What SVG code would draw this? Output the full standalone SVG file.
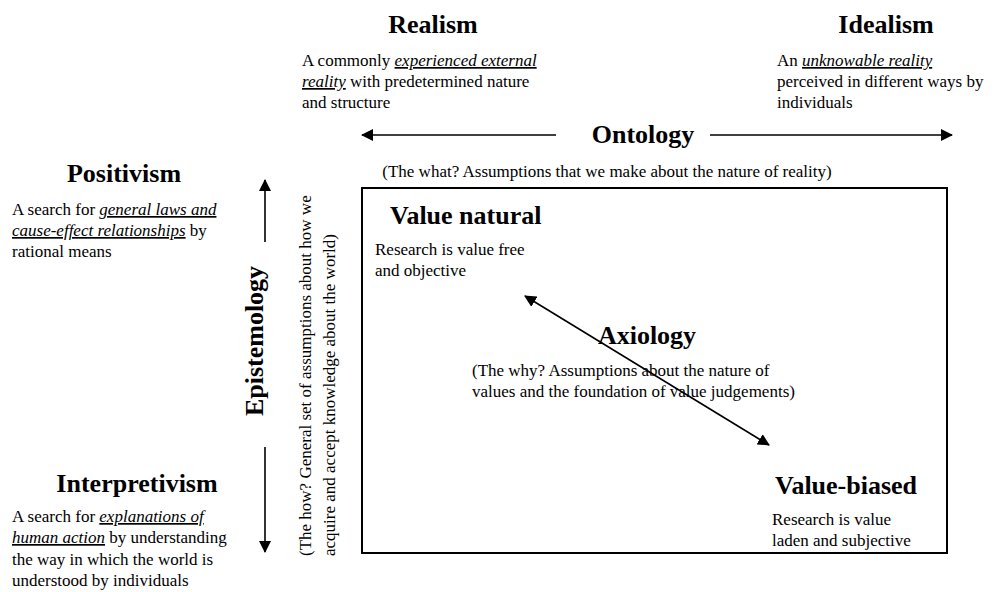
<svg xmlns="http://www.w3.org/2000/svg" width="994" height="592" viewBox="0 0 994 592">
<style>
text{font-family:"Liberation Serif","Times New Roman",serif;fill:#000}
.t{font-size:26px;font-weight:bold}
.b{font-size:17px}
.s{font-size:16px}
.u{font-style:italic;text-decoration:underline}
.ln{stroke:#000;stroke-width:1.6;fill:none}
</style>
<defs>
<marker id="ah" viewBox="0 0 12 12" refX="11" refY="6" markerWidth="12" markerHeight="12" markerUnits="userSpaceOnUse" orient="auto-start-reverse">
<path d="M0,0 L12,6 L0,12 Z" fill="#000"/>
</marker>
</defs>
<rect x="0" y="0" width="994" height="592" fill="#fff"/>
<g id="frame">
<rect x="362" y="188" width="585" height="365" fill="none" stroke="#000" stroke-width="2"/>
</g>
<g id="connectors">
<line class="ln" x1="556" y1="135" x2="362" y2="135" marker-end="url(#ah)"/>
<line class="ln" x1="710" y1="135" x2="952" y2="135" marker-end="url(#ah)"/>
<line class="ln" x1="265" y1="242" x2="265" y2="180" marker-end="url(#ah)"/>
<line class="ln" x1="265" y1="447" x2="265" y2="552" marker-end="url(#ah)"/>
<line class="ln" x1="769" y1="445" x2="525" y2="296" marker-start="url(#ah)" marker-end="url(#ah)"/>
</g>
<g id="realism">
<text class="t" x="433" y="33" text-anchor="middle">Realism</text>
<text class="b" x="302" y="66">A commonly <tspan class="u">experienced external</tspan></text>
<text class="b" x="302" y="87"><tspan class="u">reality</tspan> with predetermined nature</text>
<text class="b" x="302" y="108">and structure</text>
</g>
<g id="idealism">
<text class="t" x="886" y="33" text-anchor="middle">Idealism</text>
<text class="b" x="777" y="66">An <tspan class="u">unknowable reality</tspan></text>
<text class="b" x="777" y="87">perceived in different ways by</text>
<text class="b" x="777" y="108">individuals</text>
</g>
<g id="ontology">
<text class="t" x="643" y="143" text-anchor="middle">Ontology</text>
<text class="b" x="607" y="177" text-anchor="middle">(The what? Assumptions that we make about the nature of reality)</text>
</g>
<g id="positivism">
<text class="t" x="124" y="182" text-anchor="middle">Positivism</text>
<text class="b" x="12" y="215">A search for <tspan class="u">general laws and</tspan></text>
<text class="b" x="12" y="236"><tspan class="u">cause-effect relationships</tspan> by</text>
<text class="b" x="12" y="257">rational means</text>
</g>
<g id="interpretivism">
<text class="t" x="137" y="492" text-anchor="middle">Interpretivism</text>
<text class="b" x="12" y="522">A search for <tspan class="u">explanations of</tspan></text>
<text class="b" x="12" y="543"><tspan class="u">human action</tspan> by understanding</text>
<text class="b" x="12" y="565">the way in which the world is</text>
<text class="b" x="12" y="586">understood by individuals</text>
</g>
<g id="epistemology">
<text class="t" transform="translate(263,341) rotate(-90)" text-anchor="middle">Epistemology</text>
<text class="b" transform="translate(311,556) rotate(-90)">(The how? General set of assumptions about how we</text>
<text class="b" transform="translate(335,556) rotate(-90)">acquire and accept knowledge about the world)</text>
</g>
<g id="value-natural">
<text class="t" x="390" y="224">Value natural</text>
<text class="b" x="375" y="255">Research is value free</text>
<text class="b" x="375" y="276">and objective</text>
</g>
<g id="axiology">
<text class="t" x="647" y="344" text-anchor="middle">Axiology</text>
<text class="b" x="472" y="376">(The why? Assumptions about the nature of</text>
<text class="b" x="472" y="397">values and the foundation of value judgements)</text>
</g>
<g id="value-biased">
<text class="t" x="775" y="494">Value-biased</text>
<text class="b" x="772" y="525">Research is value</text>
<text class="b" x="772" y="546">laden and subjective</text>
</g>
</svg>
